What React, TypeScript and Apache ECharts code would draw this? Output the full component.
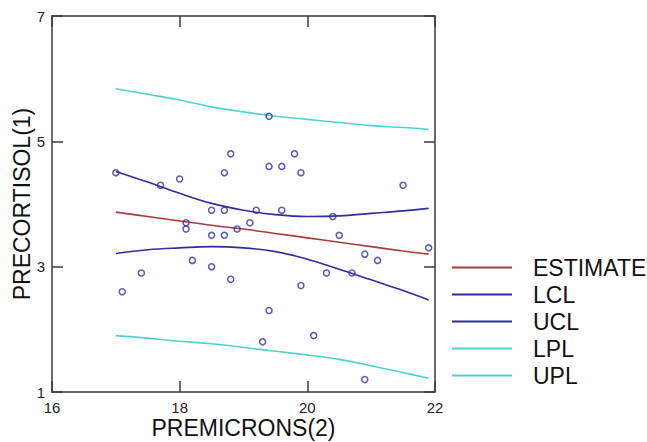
import React, { useEffect, useRef } from "react";
import * as echarts from "echarts";

const xMin = 16;
const xMax = 22;
const xStep = 2;
const yMin = 1;
const yMax = 7;
const yStep = 2;

const xTitle = "PREMICRONS(2)";
const yTitle = "PRECORTISOL(1)";

const premicrons = [
  17.0, 17.1, 17.4, 17.7, 18.0, 18.1, 18.1, 18.2, 18.5, 18.5, 18.5, 18.7, 18.7,
  18.7, 18.8, 18.8, 18.9, 19.1, 19.2, 19.3, 19.4, 19.4, 19.4, 19.6, 19.6, 19.8,
  19.9, 19.9, 20.1, 20.3, 20.4, 20.5, 20.7, 20.9, 20.9, 21.1, 21.5, 21.9,
];
const precortisol = [
  4.5, 2.6, 2.9, 4.3, 4.4, 3.7, 3.6, 3.1, 3.9, 3.5, 3.0, 4.5, 3.9,
  3.5, 4.8, 2.8, 3.6, 3.7, 3.9, 1.8, 5.4, 4.6, 2.3, 4.6, 3.9, 4.8,
  4.5, 2.7, 1.9, 2.9, 3.8, 3.5, 2.9, 3.2, 1.2, 3.1, 4.3, 3.3,
];

const curveX = [17, 17.5, 18, 18.5, 19, 19.5, 20, 20.5, 21, 21.5, 21.9];
const estimate = [3.87, 3.8, 3.73, 3.66, 3.6, 3.53, 3.46, 3.39, 3.32, 3.25, 3.2];
const lcl = [3.21, 3.27, 3.3, 3.32, 3.3, 3.24, 3.12, 2.96, 2.79, 2.62, 2.47];
const ucl = [4.52, 4.35, 4.17, 4.01, 3.9, 3.83, 3.8, 3.81, 3.85, 3.89, 3.93];
const lpl = [1.9, 1.86, 1.81, 1.77, 1.71, 1.65, 1.59, 1.52, 1.42, 1.31, 1.22];
const upl = [5.84, 5.75, 5.66, 5.55, 5.47, 5.4, 5.35, 5.3, 5.25, 5.22, 5.19];

const lineNames = ["ESTIMATE", "LCL", "UCL", "LPL", "UPL"];
const lineValues = [estimate, lcl, ucl, lpl, upl];
const lineColors = ["#a83c3c", "#2f2f9c", "#2f2f9c", "#4fd2d2", "#4fd2d2"];

const FONT = "'Liberation Sans', Arial, Helvetica, sans-serif";
const FRAME = "#3a3a3a";

export default function App() {
  const ref = useRef<HTMLDivElement>(null);

  useEffect(() => {
    if (!ref.current) return;
    const chart = echarts.init(ref.current, null, { renderer: "svg" });

    const tickCommon = {
      show: true,
      inside: true,
      length: 11,
      lineStyle: { color: FRAME, width: 1.5 },
    };

    const xBase = {
      type: "value" as const,
      min: xMin,
      max: xMax,
      interval: xStep,
      splitLine: { show: false },
      axisLine: { show: true, onZero: false, lineStyle: { color: FRAME, width: 1.5 } },
      axisTick: tickCommon,
    };
    const yBase = {
      type: "value" as const,
      min: yMin,
      max: yMax,
      interval: yStep,
      splitLine: { show: false },
      axisLine: { show: true, onZero: false, lineStyle: { color: FRAME, width: 1.5 } },
      axisTick: tickCommon,
    };

    const lineSeries = lineNames.map((name, i) => ({
      name,
      type: "line" as const,
      xAxisIndex: 0,
      yAxisIndex: 0,
      data: curveX.map((x, j) => [x, lineValues[i][j]]),
      symbol: "none",
      smooth: 0.4,
      lineStyle: { color: lineColors[i], width: 1.6 },
      itemStyle: { color: lineColors[i] },
      z: 2,
    }));

    chart.setOption({
      animation: false,
      backgroundColor: "#ffffff",
      textStyle: { fontFamily: FONT },
      grid: {
        left: 52,
        top: 16,
        width: 383,
        height: 376,
        outerBoundsMode: "none",
        containLabel: false,
      },
      legend: {
        data: lineNames,
        orient: "vertical",
        left: 452,
        top: 256,
        padding: 0,
        icon: "rect",
        itemWidth: 60,
        itemHeight: 2,
        itemGap: 4,
        selectedMode: false,
        textStyle: {
          fontFamily: FONT,
          fontSize: 23,
          color: "#111",
          lineHeight: 20,
          padding: [0, 0, 0, 16],
        },
      },
      xAxis: [
        {
          ...xBase,
          position: "bottom",
          name: xTitle,
          nameLocation: "middle",
          nameGap: 25,
          nameMoveOverlap: false,
          nameTextStyle: { fontFamily: FONT, fontSize: 23, color: "#111", lineHeight: 22 },
          axisLabel: { show: true, margin: 8, fontSize: 15, color: "#222", fontFamily: FONT },
        },
        {
          ...xBase,
          position: "top",
          axisLabel: { show: false },
        },
      ],
      yAxis: [
        {
          ...yBase,
          position: "left",
          name: yTitle,
          nameLocation: "middle",
          nameGap: 19,
          nameMoveOverlap: false,
          nameTextStyle: { fontFamily: FONT, fontSize: 23, color: "#111", lineHeight: 22 },
          axisLabel: { show: true, margin: 7, fontSize: 15, color: "#222", fontFamily: FONT },
        },
        {
          ...yBase,
          position: "right",
          axisLabel: { show: false },
        },
      ],
      series: [
        ...lineSeries,
        {
          name: "data",
          type: "scatter",
          xAxisIndex: 0,
          yAxisIndex: 0,
          data: premicrons.map((x, i) => [x, precortisol[i]]),
          symbol: "circle",
          symbolSize: 6,
          itemStyle: { color: "rgba(255,255,255,0)", borderColor: "#2f2f9c", borderWidth: 1.5 },
          z: 3,
        },
      ],
    });

    return () => chart.dispose();
  }, []);

  return (
    <div
      ref={ref}
      style={{ position: "absolute", left: 0, top: 0, width: 647, height: 442, background: "#fff" }}
    />
  );
}
